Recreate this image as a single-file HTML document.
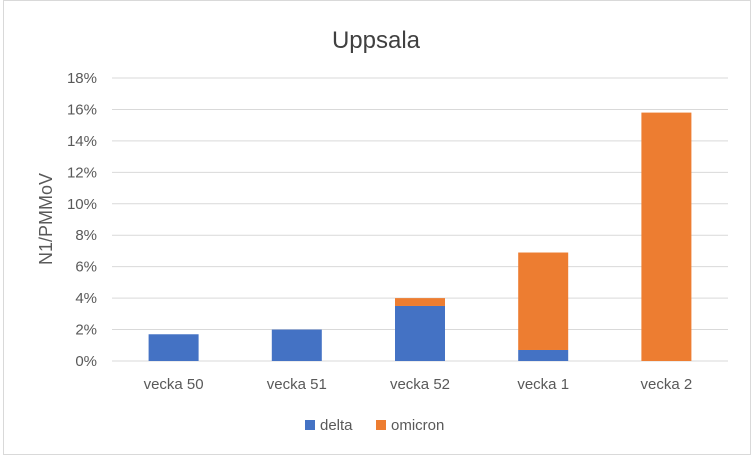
<!DOCTYPE html>
<html><head><meta charset="utf-8"><style>
body{margin:0;background:#fff;width:752px;height:456px;overflow:hidden;font-family:"Liberation Sans",sans-serif}
</style></head><body>
<svg width="752" height="456" xmlns="http://www.w3.org/2000/svg">
<rect x="3.5" y="0.5" width="747" height="454" fill="#fff" stroke="#d9d9d9"/>
<text x="376" y="48" text-anchor="middle" font-size="24" fill="#404040">Uppsala</text>
<text transform="translate(52,219) rotate(-90)" text-anchor="middle" font-size="18" fill="#595959">N1/PMMoV</text>
<g id="grid"></g><g id="bars"></g><g id="xl"></g>
<g>
<rect x="305" y="420" width="10" height="10" fill="#4472c4"/>
<text x="320" y="430" font-size="15" fill="#595959">delta</text>
<rect x="376" y="420" width="10" height="10" fill="#ed7d31"/>
<text x="391" y="430" font-size="15" fill="#595959">omicron</text>
</g>
</svg>
<script>
const categories=["vecka 50","vecka 51","vecka 52","vecka 1","vecka 2"];
const delta=[1.7,2.0,3.5,0.7,0];
const omicron=[0,0,0.5,6.2,15.8];
const ticks=[0,2,4,6,8,10,12,14,16,18];
const NS="http://www.w3.org/2000/svg";
const x0=112,x1=728,y0=361,y18=78;
const y=v=>y0-(v/18)*(y0-y18);
const band=(x1-x0)/categories.length;
const cx=i=>x0+band*(i+0.5);
const bw=50;
function mk(t,a,p){const e=document.createElementNS(NS,t);for(const k in a)e.setAttribute(k,a[k]);p.appendChild(e);return e;}
const g=document.getElementById('grid');
ticks.forEach(t=>{
 const l=mk('line',{x1:x0,x2:x1,y1:y(t),y2:y(t),stroke:'#d9d9d9','stroke-width':1},g);
 
 
 const tx=mk('text',{x:97,y:y(t)+5,'text-anchor':'end','font-size':15,fill:'#595959'},g);
 tx.textContent=t+'%';
 
 
});
const b=document.getElementById('bars'),xl=document.getElementById('xl');
categories.forEach((c,i)=>{
 if(delta[i]>0){const r=mk('rect',{x:cx(i)-bw/2,y:y(delta[i]),width:bw,height:y0-y(delta[i]),fill:'#4472c4'},b);
 
 }
 if(omicron[i]>0){const top=delta[i]+omicron[i];const r=mk('rect',{x:cx(i)-bw/2,y:y(top),width:bw,height:y(delta[i])-y(top),fill:'#ed7d31'},b);
 
 }
 const t=mk('text',{x:cx(i),y:389,'text-anchor':'middle','font-size':15,fill:'#595959'},xl);
 t.textContent=c;
 
 
});
</script>
</body></html>
